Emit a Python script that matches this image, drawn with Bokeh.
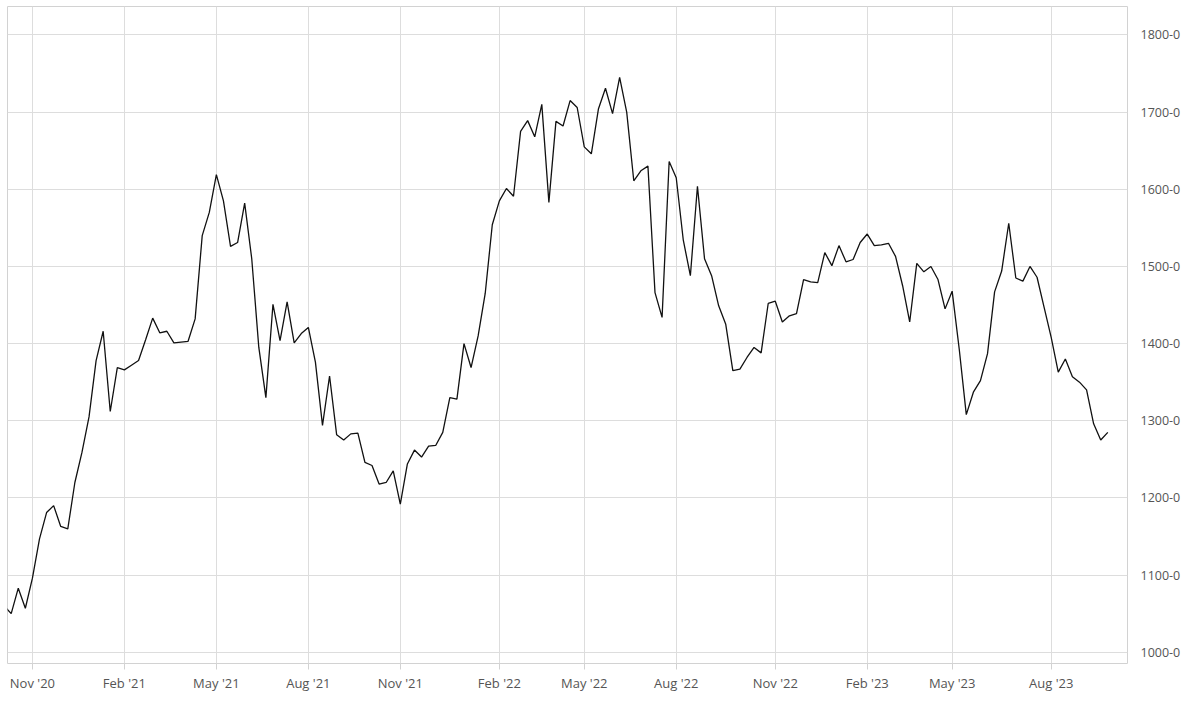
import pandas as pd
from bokeh.plotting import figure
from bokeh.models import FixedTicker, DatetimeTickFormatter, Range1d
from bokeh.embed import file_html
from bokeh.resources import INLINE

# ---------------- data (weekly closes) ----------------
start_date = "2020-10-05"
prices = [
    1060,
    1050, 1083, 1057, 1096, 1147, 1181, 1190, 1163, 1160, 1220,
    1259, 1305, 1378, 1416, 1312, 1369, 1366, 1372, 1378, 1405,
    1433, 1414, 1416, 1401, 1402, 1403, 1432,
    1540, 1570, 1619, 1585, 1526, 1531, 1582, 1510, 1395, 1330,
    1451, 1404, 1454, 1401, 1413, 1421, 1376, 1294, 1358, 1282,
    1275, 1283, 1284, 1246, 1242, 1218, 1220, 1235, 1192, 1244,
    1262, 1253, 1267, 1268, 1285, 1330, 1328, 1400, 1369, 1410,
    1465, 1554, 1585,
    1601, 1591, 1675, 1689, 1668, 1710, 1583, 1688, 1682, 1715,
    1706, 1655, 1646, 1704, 1731, 1698, 1745, 1700, 1611, 1624,
    1630, 1466, 1434, 1636, 1615, 1534, 1488, 1604, 1510, 1488,
    1449, 1425,
    1365, 1367, 1382, 1395, 1388, 1452, 1455, 1428, 1436, 1439,
    1483, 1480, 1479, 1518, 1501, 1527, 1506, 1509, 1531, 1542,
    1527, 1528, 1530, 1513, 1475, 1428, 1504, 1493, 1500, 1483,
    1445,
    1468, 1393, 1308, 1337, 1352, 1387, 1467, 1494, 1556, 1485,
    1481, 1500, 1486, 1447, 1408, 1363, 1380, 1357, 1350, 1340,
    1296, 1275, 1285,
]
dates = pd.date_range(start_date, periods=len(prices), freq="7D")

tick_months = ["2020-11", "2021-02", "2021-05", "2021-08", "2021-11",
               "2022-02", "2022-05", "2022-08", "2022-11", "2023-02",
               "2023-05", "2023-08"]
y_ticks = [1000, 1100, 1200, 1300, 1400, 1500, 1600, 1700, 1800]
y_tick_labels = ["1000-0", "1100-0", "1200-0", "1300-0", "1400-0",
                 "1500-0", "1600-0", "1700-0", "1800-0"]

# ---------------- helpers ----------------
def ms(ts):
    return ts.value / 1e6

DAY = 86400000.0
x_ticks = []
for m in tick_months:
    first = [d for d in dates if d.strftime("%Y-%m") == m][0]
    x_ticks.append(ms(first))

FW, FH = 1120, 657
x0 = ms(dates[1])
x_start = x0 - 3.66 * DAY
x_end = x0 + 1104.5 * DAY
y_lo, y_hi = 985.4, 1836.9

p = figure(frame_width=FW, frame_height=FH,
           x_axis_type="datetime", y_axis_location="right",
           x_range=Range1d(x_start, x_end), y_range=Range1d(y_lo, y_hi),
           output_backend="svg", toolbar_location=None,
           min_border_left=7, min_border_top=6, min_border_right=60,
           min_border_bottom=0)
p.background_fill_color = "white"
p.border_fill_color = "white"
p.outline_line_color = "#d2d2d2"
p.outline_line_width = 1

p.line([ms(d) for d in dates], prices, line_color="#111111", line_width=1.3)

# x axis
xa = p.xaxis[0]
xa.ticker = FixedTicker(ticks=x_ticks)
fmt = "%b '%y"
xa.formatter = DatetimeTickFormatter(
    microseconds=fmt, milliseconds=fmt, seconds=fmt, minsec=fmt, minutes=fmt,
    hourmin=fmt, hours=fmt, days=fmt, months=fmt, years=fmt)
xa.axis_line_color = None
xa.major_tick_line_color = "#d2d2d2"
xa.major_tick_out = 6
xa.major_tick_in = 0
xa.minor_tick_line_color = None
xa.major_label_standoff = 4
xa.major_label_text_font = "Open Sans"
xa.major_label_text_font_size = "13px"
xa.major_label_text_color = "#555555"

# y axis
ya = p.yaxis[0]
ya.ticker = FixedTicker(ticks=y_ticks)
ya.major_label_overrides = dict(zip(y_ticks, y_tick_labels))
ya.axis_line_color = None
ya.major_tick_line_color = None
ya.major_tick_out = 0
ya.major_tick_in = 0
ya.minor_tick_line_color = None
ya.major_label_standoff = 13
ya.major_label_text_font = "Open Sans"
ya.major_label_text_font_size = "12.5px"
ya.major_label_text_color = "#555555"

p.grid.grid_line_color = "#dddddd"
p.grid.grid_line_width = 1

open("out.html", "w").write(file_html(p, INLINE))
